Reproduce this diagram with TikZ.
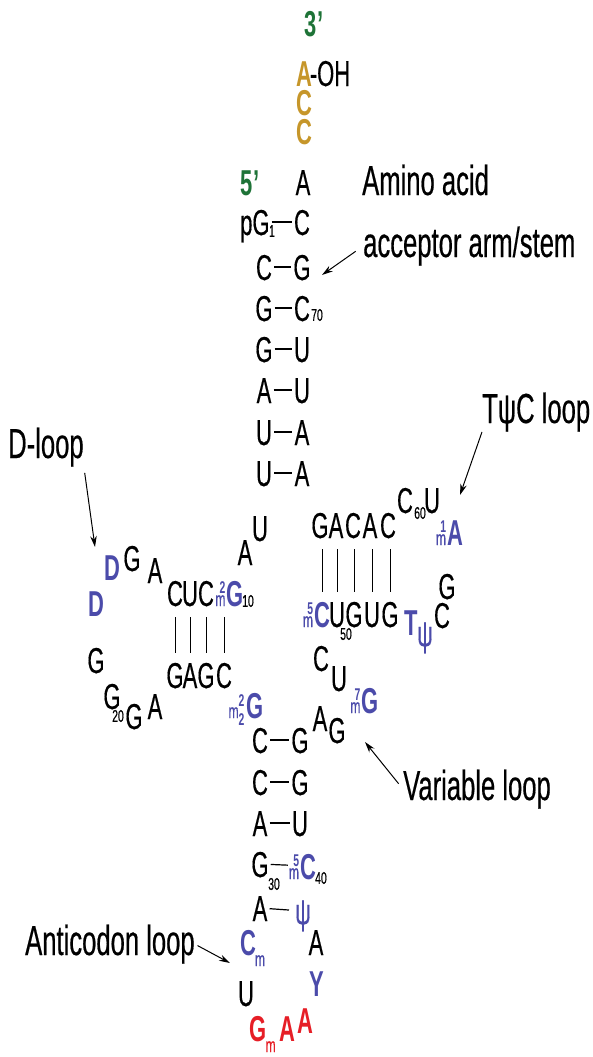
\documentclass[tikz,border=0pt]{standalone}
\usepackage{fontspec}
\usetikzlibrary{arrows.meta}
\newfontfamily\condfont[FakeStretch=0.61, UprightFeatures={FakeBold=0.4}]{Liberation Sans}
\definecolor{endgreen}{RGB}{30,115,55}
\definecolor{cca}{RGB}{198,150,42}
\definecolor{modblue}{RGB}{75,75,170}
\definecolor{codonred}{RGB}{230,30,38}
\newcommand{\ntsize}{\fontsize{36}{40}\selectfont}
\newcommand{\lblsize}{\fontsize{42}{46}\selectfont}
\newcommand{\digsize}{\fontsize{17}{17}\selectfont}
\newcommand{\msize}{\fontsize{20}{20}\selectfont}
% modification marks in front of / behind a base
\newcommand{\mpre}[1]{\llap{{\msize\mdseries m}\llap{\raisebox{13pt}{\digsize\bfseries #1}}\kern1pt}}
\newcommand{\mmtwo}{\llap{{\msize\mdseries m}\rlap{\raisebox{12pt}{\digsize\bfseries 2}}\raisebox{-7pt}{\digsize\bfseries 2}\kern2pt}}
\newcommand{\mpost}{\rlap{\kern-1pt\raisebox{-11pt}{\msize\mdseries m}}}

\begin{document}
\begin{tikzpicture}[x=1pt, y=-1pt,
    nt/.style={font=\condfont\ntsize, inner xsep=2pt, inner ysep=3pt, text height=26pt, text depth=0pt},
    ntmod/.style={nt, font=\condfont\ntsize\bfseries, text=modblue},
    ntcca/.style={nt, font=\condfont\ntsize\bfseries, text=cca},
    ntcodon/.style={nt, font=\condfont\ntsize\bfseries, text=codonred},
    ntend/.style={nt, font=\condfont\ntsize\bfseries, text=endgreen},
    posnum/.style={font=\condfont\digsize, inner sep=0pt},
    lbl/.style={font=\condfont\lblsize, inner sep=0pt, anchor=base west},
    pair/.style={line width=1.2pt},
    bar/.style={line width=1pt, shorten <=6pt, shorten >=8pt},
    arrow/.style={-{Stealth[length=11pt,width=6.5pt]}, line width=1pt}
]
\useasboundingbox (0,0) rectangle (593,1057);

% 3' end and CCA
\node[ntend] (three) at (314,24) {3’};
\node[ntcca] (b76) at (304,73) {A};
\node[nt] (oh) at (330,73) {-OH};
\node[ntcca] (b75) at (304,102) {C};
\node[ntcca] (b74) at (304,131) {C};
\node[nt] (b73) at (303,182) {A};
\node[ntend] (five) at (250,182) {5’};

% Acceptor stem
\node[nt] (b1) at (261,222) {\llap{p}G};
\node[posnum] (pos1) at (272,231) {1};
\node[nt] (b72) at (302,222) {C};
\node[nt] (b2) at (264,267) {C};
\node[nt] (b71) at (302,267) {G};
\node[nt] (b3) at (264,308) {G};
\node[nt] (b70) at (302,308) {C};
\node[posnum] (pos70) at (317,315) {70};
\node[nt] (b4) at (264,349) {G};
\node[nt] (b69) at (302,349) {U};
\node[nt] (b5) at (264,390) {A};
\node[nt] (b68) at (302,390) {U};
\node[nt] (b6) at (264,432) {U};
\node[nt] (b67) at (302,432) {A};
\node[nt] (b7) at (264,473) {U};
\node[nt] (b66) at (302,473) {A};
\node[nt] (b8) at (260,528) {U};
\node[nt] (b9) at (245,552) {A};

% D-arm
\node[ntmod] (b10) at (235,593) {\mpre{2}G};
\node[posnum] (pos10) at (248,601) {10};
\node[nt] (b11) at (206,593) {C};
\node[nt] (b12) at (190,593) {U};
\node[nt] (b13) at (175,593) {C};
\node[nt] (b14) at (155,570) {A};
\node[nt] (b15) at (132,558) {G};
\node[ntmod] (b16) at (112,567) {D};
\node[ntmod] (b17) at (96,603) {D};
\node[nt] (b18) at (96,660) {G};
\node[nt] (b19) at (112,696) {G};
\node[posnum] (pos20) at (118,716) {20};
\node[nt] (b20) at (134,716) {G};
\node[nt] (b21) at (155,706) {A};
\node[nt] (b22) at (175,675) {G};
\node[nt] (b23) at (190,675) {A};
\node[nt] (b24) at (206,675) {G};
\node[nt] (b25) at (224,675) {C};
\node[ntmod] (b26) at (255,705) {\mmtwo G};

% Anticodon arm
\node[nt] (b27) at (260,740) {C};
\node[nt] (b43) at (300,740) {G};
\node[nt] (b28) at (260,782) {C};
\node[nt] (b42) at (300,782) {G};
\node[nt] (b29) at (260,823) {A};
\node[nt] (b41) at (300,823) {U};
\node[nt] (b30) at (260,864) {G};
\node[posnum] (pos30) at (274,884) {30};
\node[ntmod] (b40) at (308,866) {\mpre{5}C};
\node[posnum] (pos40) at (321,878) {40};
\node[nt] (b31) at (260,908) {A};
\node[nt, text=modblue] (b39) at (303,911) {ψ};
\node[ntmod] (b32) at (248,942) {C\mpost};
\node[nt] (b38) at (316,942) {A};
\node[nt] (b33) at (246,993) {U};
\node[ntmod] (b37) at (317,983) {Y};
\node[ntcodon] (b34) at (258,1028) {G\mpost};
\node[ntcodon] (b35) at (287,1028) {A};
\node[ntcodon] (b36) at (305,1020) {A};

% Variable loop
\node[nt] (b44) at (320,718) {A};
\node[nt] (b45) at (337,730) {G};
\node[ntmod] (b46) at (370,700) {\mpre{7}G};
\node[nt] (b47) at (339,678) {U};
\node[nt] (b48) at (321,658) {C};

% T-psi-C arm
\node[ntmod] (b49) at (322,614) {\mpre{5}C};
\node[nt] (b50) at (337,614) {U};
\node[posnum] (pos50) at (346,634) {50};
\node[nt] (b51) at (354,614) {G};
\node[nt] (b52) at (372,614) {U};
\node[nt] (b53) at (390,614) {G};
\node[ntmod] (b54) at (411,622) {T};
\node[nt, text=modblue] (b55) at (425,633) {ψ};
\node[nt] (b56) at (442,615) {C};
\node[nt] (b57) at (447,586) {G};
\node[ntmod] (b58) at (455,532) {\mpre{1}A};
\node[nt] (b59) at (432,500) {U};
\node[nt] (b60) at (405,500) {C};
\node[posnum] (pos60) at (420,513) {60};
\node[nt] (b61) at (388,525) {C};
\node[nt] (b62) at (370,525) {A};
\node[nt] (b63) at (353,525) {C};
\node[nt] (b64) at (336,525) {A};
\node[nt] (b65) at (320,525) {G};

% Labels
\node[lbl] (amino) at (362,195) {Amino acid};
\node[lbl] (accept) at (363,257) {acceptor arm/stem};
\node[lbl] (tpcloop) at (482,423) {TψC loop};
\node[lbl] (dloop) at (8,458) {D-loop};
\node[lbl] (varloop) at (403,800) {Variable loop};
\node[lbl] (anticod) at (25,955) {Anticodon loop};

% Arrow tips
\coordinate (acceptend) at (322,275);
\coordinate (tpcend) at (460,495);
\coordinate (dend) at (95,547);
\coordinate (varend) at (365,742);
\coordinate (anticodend) at (230,963);

% Base pairs
\draw[pair] (b1) -- (b72);
\draw[pair] (b2) -- (b71);
\draw[pair] (b3) -- (b70);
\draw[pair] (b4) -- (b69);
\draw[pair] (b5) -- (b68);
\draw[pair] (b6) -- (b67);
\draw[pair] (b7) -- (b66);
\draw[pair] (b27) -- (b43);
\draw[pair] (b28) -- (b42);
\draw[pair] (b29) -- (b41);
\draw[pair, shorten >=10pt] (b30) -- (b40);
\draw[pair, shorten >=4pt] (b31) -- (b39);
\draw[bar] (b22.north) -- (b22.north |- b13.south);
\draw[bar] (b23.north) -- (b23.north |- b12.south);
\draw[bar] (b24.north) -- (b24.north |- b11.south);
\draw[bar] (b25.north) -- (b25.north |- b10.south);
\draw[bar] (b49.north) -- (b49.north |- b65.south);
\draw[bar] (b50.north) -- (b50.north |- b64.south);
\draw[bar] (b51.north) -- (b51.north |- b63.south);
\draw[bar] (b52.north) -- (b52.north |- b62.south);
\draw[bar] (b53.north) -- (b53.north |- b61.south);

% Arrows
\draw[arrow, shorten <=9pt] (accept.west) -- (acceptend);
\draw[arrow] (tpcloop.south west) -- (tpcend);
\draw[arrow, shorten <=6pt] (dloop.south east) -- (dend);
\draw[arrow, shorten <=7pt] (varloop.west) -- (varend);
\draw[arrow, shorten <=3pt] (anticod.east) -- (anticodend);

\end{tikzpicture}
\end{document}
